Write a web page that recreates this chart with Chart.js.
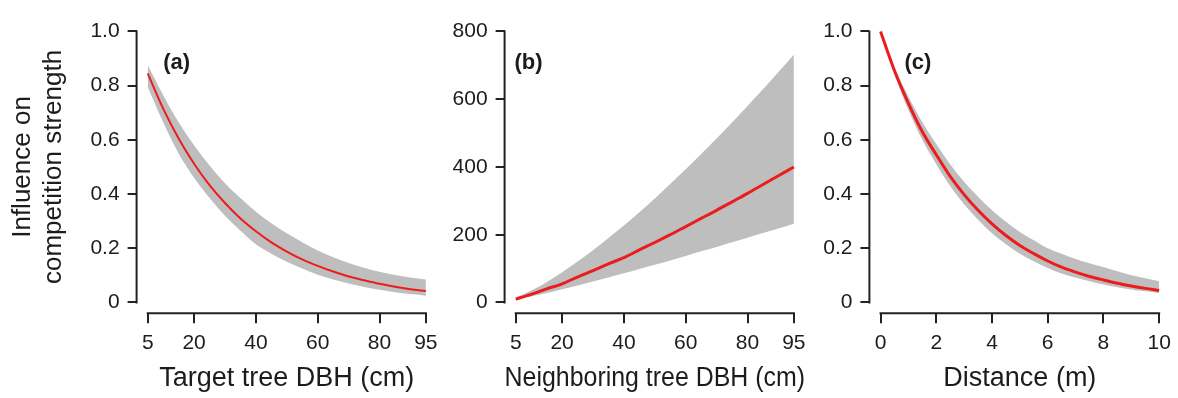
<!DOCTYPE html>
<html>
<head>
<meta charset="utf-8">
<script src="https://cdn.jsdelivr.net/npm/chart.js@4.4.0/dist/chart.umd.min.js"></script>
<style>
  html, body { margin: 0; padding: 0; background: #fff; }
  #wrap { position: relative; width: 1178px; height: 398px; overflow: hidden; }
  #wrap canvas { position: absolute; top: 0; }
</style>
</head>
<body>
<div id="wrap">
  <canvas id="panelA" width="445" height="398" style="left:0px"></canvas>
  <canvas id="panelB" width="375" height="398" style="left:445px"></canvas>
  <canvas id="panelC" width="358" height="398" style="left:820px"></canvas>
</div>
<script>
// values
const DBH = [5, 10, 15, 20, 25, 30, 35, 40, 45, 50, 55, 60, 65, 70, 75, 80, 85, 90, 95];
const DIST = [0, 0.5, 1, 1.5, 2, 2.5, 3, 3.5, 4, 4.5, 5, 5.5, 6, 6.5, 7, 7.5, 8, 8.5, 9, 9.5, 10];

// (a) target tree DBH
const A_MEAN  = [0.845, 0.715, 0.605, 0.512, 0.433, 0.367, 0.310, 0.263, 0.222, 0.188, 0.159, 0.135, 0.114, 0.096, 0.082, 0.069, 0.058, 0.049, 0.042];
const A_UPPER = [0.875, 0.765, 0.665, 0.580, 0.505, 0.440, 0.385, 0.335, 0.292, 0.255, 0.222, 0.192, 0.167, 0.146, 0.128, 0.113, 0.101, 0.092, 0.085];
const A_LOWER = [0.795, 0.665, 0.550, 0.460, 0.385, 0.320, 0.265, 0.215, 0.180, 0.150, 0.125, 0.102, 0.085, 0.070, 0.057, 0.047, 0.038, 0.031, 0.025];

// (b) neighboring tree DBH
const B_MEAN  = [10, 24, 40, 55, 75, 94, 114, 132, 155, 177, 200, 224, 248, 272, 297, 322, 348, 374, 400];
const B_UPPER = [14, 35, 60, 89, 121, 154, 190, 227, 266, 307, 350, 393, 438, 484, 531, 580, 629, 680, 731];
const B_LOWER = [8, 18, 28, 39, 50, 62, 74, 86, 99, 111, 124, 137, 151, 164, 178, 191, 205, 218, 232];

// (c) distance
const C_MEAN  = [1.0, 0.855, 0.735, 0.630, 0.545, 0.465, 0.398, 0.340, 0.290, 0.247, 0.210, 0.180, 0.153, 0.130, 0.112, 0.096, 0.083, 0.071, 0.061, 0.052, 0.044];
const C_UPPER = [1.0, 0.868, 0.760, 0.665, 0.585, 0.510, 0.445, 0.390, 0.340, 0.298, 0.260, 0.230, 0.200, 0.180, 0.160, 0.145, 0.131, 0.115, 0.100, 0.089, 0.078];
const C_LOWER = [1.0, 0.842, 0.710, 0.600, 0.510, 0.430, 0.362, 0.305, 0.255, 0.215, 0.180, 0.152, 0.127, 0.107, 0.092, 0.078, 0.066, 0.056, 0.048, 0.041, 0.035];

// axis ticks
const DBH_TICKS = [5, 20, 40, 60, 80, 95];
const DIST_TICKS = [0, 2, 4, 6, 8, 10];
const PROP_TICKS = [0, 0.2, 0.4, 0.6, 0.8, 1.0];
const PROP_LABELS = ['0', '0.2', '0.4', '0.6', '0.8', '1.0'];
const B_Y_TICKS = [0, 200, 400, 600, 800];
const B_Y_LABELS = ['0', '200', '400', '600', '800'];

const FONT = "'Liberation Sans', Arial, Helvetica, sans-serif";
const TEXT_COLOR = '#1c1c1c';
const AXIS_COLOR = '#222222';
const BAND_COLOR = '#bebebe';
const LINE_COLOR = '#ec1c1c';

Chart.defaults.font.family = FONT;
Chart.defaults.color = TEXT_COLOR;

// R-style axes: the axis line only spans first..last tick
const detachedAxes = {
    id: 'detachedAxes',
    afterDraw(chart) {
        const { ctx, chartArea, scales: { x, y } } = chart;
        const xt = x.ticks, yt = y.ticks;
        ctx.save();
        ctx.strokeStyle = AXIS_COLOR;
        ctx.lineWidth = 2;
        ctx.beginPath();
        ctx.moveTo(x.getPixelForValue(xt[0].value) - 1, chartArea.bottom);
        ctx.lineTo(x.getPixelForValue(xt[xt.length - 1].value) + 1, chartArea.bottom);
        ctx.moveTo(chartArea.left, y.getPixelForValue(yt[0].value) + 1);
        ctx.lineTo(chartArea.left, y.getPixelForValue(yt[yt.length - 1].value) - 1);
        ctx.stroke();
        ctx.restore();
    }
};

const panelLabel = {
    id: 'panelLabel',
    afterDraw(chart, args, opts) {
        if (!opts.text) return;
        const { ctx, scales: { x, y } } = chart;
        ctx.save();
        ctx.font = 'bold 22px ' + FONT;
        ctx.fillStyle = TEXT_COLOR;
        ctx.textBaseline = 'middle';
        ctx.textAlign = 'left';
        ctx.fillText(opts.text, x.getPixelForValue(opts.x), y.getPixelForValue(opts.y));
        ctx.restore();
    }
};

function pts(xs, ys) {
    return xs.map((v, i) => ({ x: v, y: ys[i] }));
}

function makePanel(id, p) {
    const el = document.getElementById(id);
    return new Chart(el, {
        type: 'line',
        data: {
            datasets: [
                { data: pts(p.xs, p.mean), borderColor: LINE_COLOR, borderWidth: p.lineWidth, pointRadius: 0, fill: false, cubicInterpolationMode: 'monotone' },
                { data: pts(p.xs, p.upper), borderWidth: 0, borderColor: 'rgba(0,0,0,0)', backgroundColor: BAND_COLOR, pointRadius: 0, fill: '+1', cubicInterpolationMode: 'monotone' },
                { data: pts(p.xs, p.lower), borderWidth: 0, borderColor: 'rgba(0,0,0,0)', pointRadius: 0, fill: false, cubicInterpolationMode: 'monotone' }
            ]
        },
        options: {
            responsive: false,
            animation: false,
            events: [],
            layout: { padding: { top: 7.7, right: p.padRight, bottom: 0, left: 0 } },
            plugins: {
                legend: { display: false },
                tooltip: { enabled: false },
                panelLabel: p.label
            },
            scales: {
                x: {
                    type: 'linear',
                    min: p.xMin, max: p.xMax,
                    afterBuildTicks: s => { s.ticks = p.xTicks.map(v => ({ value: v })); },
                    afterFit: s => { s.height = 84.7; },
                    border: { display: false },
                    grid: { drawOnChartArea: false, drawTicks: true, tickLength: 10, color: AXIS_COLOR, lineWidth: 2 },
                    ticks: { color: TEXT_COLOR, font: { size: 21 }, padding: 7, maxRotation: 0, autoSkip: false, callback: v => String(v) },
                    title: { display: true, text: p.xTitle, color: TEXT_COLOR, font: { size: 27 }, padding: { top: 0, bottom: 3 } }
                },
                y: {
                    type: 'linear',
                    min: p.yMin, max: p.yMax,
                    afterBuildTicks: s => { s.ticks = p.yTicks.map(v => ({ value: v })); },
                    afterFit: s => { s.width = p.yWidth; },
                    border: { display: false },
                    grid: { drawOnChartArea: false, drawTicks: true, tickLength: 9, color: AXIS_COLOR, lineWidth: 2 },
                    ticks: { color: TEXT_COLOR, font: { size: 21 }, padding: 8, autoSkip: false, callback: (v, i) => p.yLabels[i] },
                    title: { display: !!p.yTitle, text: p.yTitle, color: TEXT_COLOR, font: { size: 26 }, padding: { top: 7, bottom: 0 } }
                }
            }
        },
        plugins: [detachedAxes, panelLabel]
    });
}

makePanel('panelA', {
    xs: DBH, mean: A_MEAN, upper: A_UPPER, lower: A_LOWER, lineWidth: 2,
    xMin: 1.4, xMax: 98.6, yMin: -0.04, yMax: 1.04,
    xTicks: DBH_TICKS, yTicks: PROP_TICKS, yLabels: PROP_LABELS,
    xTitle: 'Target tree DBH (cm)', yTitle: ['Influence on', 'competition strength'],
    yWidth: 136.6, padRight: 8,
    label: { text: '(a)', x: 10, y: 0.883 }
});

makePanel('panelB', {
    xs: DBH, mean: B_MEAN, upper: B_UPPER, lower: B_LOWER, lineWidth: 3,
    xMin: 1.4, xMax: 98.6, yMin: -32, yMax: 832,
    xTicks: DBH_TICKS, yTicks: B_Y_TICKS, yLabels: B_Y_LABELS,
    xTitle: 'Neighboring tree DBH (cm)', yTitle: '',
    yWidth: 59.6, padRight: 15,
    label: { text: '(b)', x: 4.6, y: 707 }
});

makePanel('panelC', {
    xs: DIST, mean: C_MEAN, upper: C_UPPER, lower: C_LOWER, lineWidth: 3,
    xMin: -0.4, xMax: 10.4, yMin: -0.04, yMax: 1.04,
    xTicks: DIST_TICKS, yTicks: PROP_TICKS, yLabels: PROP_LABELS,
    xTitle: 'Distance (m)', yTitle: '',
    yWidth: 49.4, padRight: 4.4,
    label: { text: '(c)', x: 0.86, y: 0.883 }
});
</script>
</body>
</html>
